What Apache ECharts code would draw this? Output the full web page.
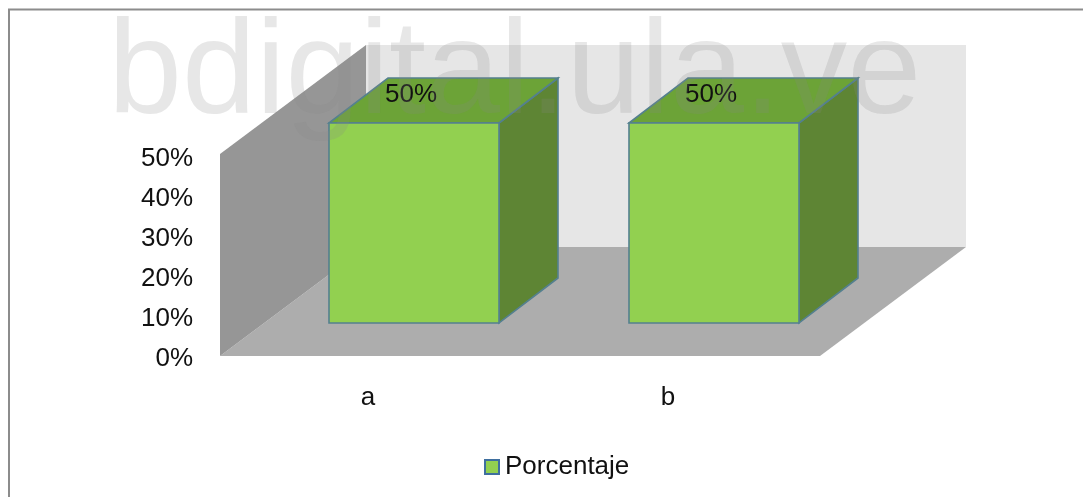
<!DOCTYPE html>
<html>
<head>
<meta charset="utf-8">
<style>
  html, body { margin: 0; padding: 0; background: #fff; }
  #chart { width: 1083px; height: 497px; }
</style>
<script src="https://cdn.jsdelivr.net/npm/echarts@6/dist/echarts.min.js"></script>
</head>
<body>
<div id="chart"></div>
<script>
const categories = ['a', 'b'];
const porcentaje = [50, 50];
const seriesName = 'Porcentaje';
const watermark = 'bdigital.ula.ve';

// Oblique projection of the room and of the bars standing inside it.
const roomDepth = [146, -109];
const roomHeadroom = 2;
const barInset = [44, -33];
const barDepth = [59, -45];
const barWidth = 170;

const chart = echarts.init(document.getElementById('chart'), null, { renderer: 'canvas' });

function quad(points, fill, stroke) {
  return {
    type: 'polygon',
    shape: { points },
    style: stroke ? { fill, stroke, lineWidth: 1.6 } : { fill }
  };
}

function renderRoom(params) {
  const g = params.coordSys;
  const [dx, dy] = roomDepth;
  const l = g.x, r = g.x + g.width, t = g.y - roomHeadroom, b = g.y + g.height;
  return {
    type: 'group',
    children: [
      quad([[l + dx, t + dy], [r + dx, t + dy], [r + dx, b + dy], [l + dx, b + dy]], '#e6e6e6'),
      quad([[l, b], [r, b], [r + dx, b + dy], [l + dx, b + dy]], '#adadad'),
      quad([[l, t], [l + dx, t + dy], [l + dx, b + dy], [l, b]], '#969696')
    ]
  };
}

function renderBar(params, api) {
  const base = api.coord([api.value(0), 0]);
  const top = api.coord([api.value(0), api.value(1)]);
  const x0 = base[0] + barInset[0] - barWidth / 2;
  const x1 = x0 + barWidth;
  const y0 = base[1] + barInset[1];
  const y1 = top[1] + barInset[1];
  const [dx, dy] = barDepth;
  const edge = '#54808f';
  return {
    type: 'group',
    children: [
      quad([[x1, y1], [x1 + dx, y1 + dy], [x1 + dx, y0 + dy], [x1, y0]], '#5e8534', edge),
      quad([[x0, y1], [x0 + dx, y1 + dy], [x1 + dx, y1 + dy], [x1, y1]], '#6ca337', edge),
      quad([[x0, y1], [x1, y1], [x1, y0], [x0, y0]], '#92d050', edge),
      {
        type: 'text',
        style: {
          x: (x0 + x1) / 2 - 3,
          y: y1 - 28,
          text: api.value(1) + '%',
          fill: '#111',
          font: '26px "Liberation Sans", Arial, sans-serif',
          align: 'center',
          verticalAlign: 'middle'
        }
      }
    ]
  };
}

chart.setOption({
  animation: false,
  backgroundColor: '#fff',
  grid: { left: 220, top: 156, width: 600, height: 200 },
  xAxis: {
    type: 'category',
    data: categories,
    axisLine: { show: false },
    axisTick: { show: false },
    axisLabel: {
      margin: 29, color: '#111', fontSize: 26, padding: [0, 4, 0, 0],
      fontFamily: '"Liberation Sans", Arial, sans-serif'
    }
  },
  yAxis: {
    type: 'value',
    min: 0,
    max: 50,
    interval: 10,
    axisLine: { show: false },
    axisTick: { show: false },
    splitLine: { show: false },
    axisLabel: {
      margin: 27,
      formatter: '{v|{value}%}',
      rich: {
        v: {
          color: '#111', fontSize: 26, padding: [6, 0, 0, 0],
          fontFamily: '"Liberation Sans", Arial, sans-serif'
        }
      }
    }
  },
  legend: {
    data: [seriesName],
    left: 479,
    top: 449,
    itemWidth: 14,
    itemHeight: 14,
    itemGap: 6,
    icon: 'rect',
    textStyle: {
      color: '#111', fontSize: 26, padding: [0, 0, 0, 1],
      fontFamily: '"Liberation Sans", Arial, sans-serif'
    }
  },
  series: [
    {
      type: 'custom',
      name: 'room',
      renderItem: renderRoom,
      data: [0],
      silent: true,
      z: 1
    },
    {
      type: 'custom',
      name: seriesName,
      renderItem: renderBar,
      encode: { x: 0, y: 1 },
      itemStyle: { color: '#92d050', borderColor: '#3f6f9f', borderWidth: 2 },
      data: categories.map((c, i) => [i, porcentaje[i]]),
      z: 2
    }
  ],
  graphic: [
    // Frame is open on the right and bottom: only the top and left rules are drawn.
    {
      type: 'polyline',
      shape: { points: [[9, 497], [9, 9.5], [1083, 9.5]] },
      style: { fill: 'none', stroke: '#8c8c8c', lineWidth: 2 },
      z: 0
    },
    {
      type: 'text',
      left: 108,
      top: 10,
      z: 10,
      silent: true,
      style: {
        text: watermark,
        fill: 'rgba(135,135,135,0.2)',
        font: '133px "Liberation Sans", Arial, sans-serif'
      }
    }
  ]
});
</script>
</body>
</html>
